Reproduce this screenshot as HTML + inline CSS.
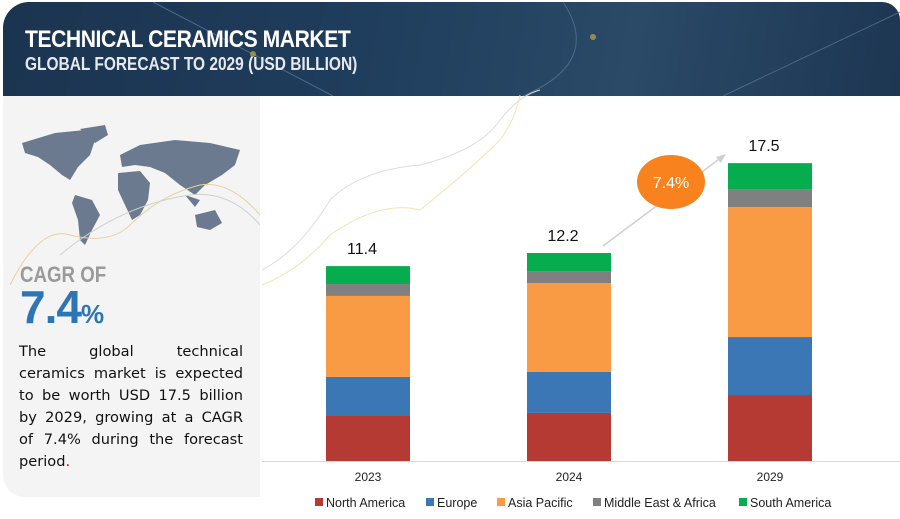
<!DOCTYPE html>
<html><head><meta charset="utf-8"><style>
body{margin:0;width:900px;height:519px;background:#fff;font-family:"Liberation Sans",sans-serif;position:relative;overflow:hidden}
.hdr{position:absolute;left:3px;top:2px;width:897px;height:94px;background:linear-gradient(100deg,#1b3450,#1f3d5c 40%,#2a4a68 70%,#1d3652);border-radius:26px 18px 0 0}
.t1{position:absolute;left:22px;top:24px;color:#fff;font-weight:bold;font-size:24px;letter-spacing:-0.5px;transform:scaleX(0.88);transform-origin:left}
.t2{position:absolute;left:22px;top:52px;color:#e5e8ec;font-weight:bold;font-size:18px;transform:scaleX(0.86);transform-origin:left}
.left{position:absolute;left:3px;top:96px;width:257px;height:401px;background:#f4f4f4;border-radius:0 0 0 22px}
.cagr{position:absolute;left:20px;top:262px;color:#9a9a9a;font-weight:bold;font-size:22px;transform:scaleX(0.85);transform-origin:left}
.big{position:absolute;left:20px;top:280px;color:#2e75b6;font-weight:bold;font-size:46px;letter-spacing:-1px}
.big span{font-size:26px}
.desc{position:absolute;left:19px;top:341px;width:224px;font-family:"DejaVu Sans",sans-serif;font-size:14.6px;line-height:22px;color:#111}
.desc div{text-align:justify;text-align-last:justify;white-space:nowrap}
.desc div.last{text-align-last:left}
</style></head><body>
<div class="hdr">
<svg width="897" height="94" style="position:absolute;left:0;top:0"><path d="M150 0 L330 94" stroke="#4a6a88" stroke-width="1" fill="none"/><path d="M560 0 Q600 60 520 94" stroke="#4a6a88" fill="none"/><path d="M720 94 L897 10" stroke="#4a6a88" fill="none"/><circle cx="250" cy="52" r="3" fill="#c9a640" opacity=".7"/><circle cx="590" cy="35" r="3" fill="#c9a640" opacity=".7"/></svg>
<div class="t1">TECHNICAL CERAMICS MARKET</div>
<div class="t2">GLOBAL FORECAST TO 2029 (USD BILLION)</div>
</div>
<div class="left"></div>
<svg width="260" height="200" style="position:absolute;left:0;top:95px">
<g fill="#6b7a8e">
<path d="M22 48 L55 38 L85 35 L95 45 L90 60 L78 72 L70 85 L62 80 L50 70 L38 62 L25 58 Z"/>
<path d="M80 34 L105 30 L108 40 L95 48 Z"/>
<path d="M75 100 L92 105 L100 120 L92 135 L85 150 L80 145 L78 125 L72 108 Z"/>
<path d="M120 60 L140 50 L175 45 L210 48 L240 55 L235 70 L222 80 L205 90 L195 100 L180 90 L165 78 L150 72 L135 70 L122 72 Z"/>
<path d="M118 78 L140 76 L150 88 L148 105 L140 120 L132 125 L125 110 L118 95 Z"/>
<path d="M195 120 L215 115 L222 128 L210 135 L197 132 Z"/>
<path d="M185 100 L200 105 L195 112 Z"/>
</g>
<path d="M10 190 Q40 130 70 140 Q110 150 130 130 Q160 100 200 90 Q230 85 260 120" stroke="#e8d29a" fill="none"/>
<path d="M60 160 Q120 110 190 100 Q230 95 260 130" stroke="#d0d0d0" fill="none"/>
</svg>
<div class="cagr">CAGR OF</div>
<div class="big">7.4<span>%</span></div>
<div class="desc">
<div>The global technical</div>
<div>ceramics market is expected</div>
<div>to be worth USD 17.5 billion</div>
<div>by 2029, growing at a CAGR</div>
<div>of 7.4% during the forecast</div>
<div class="last">period<span style="color:#c00">.</span></div>
</div>
<svg id="chart" width="900" height="519" style="position:absolute;left:0;top:0"></svg>
<script>
const years=["2023","2024","2029"];
const totals=["11.4","12.2","17.5"];
const seriesNames=["North America","Europe","Asia Pacific","Middle East & Africa","South America"];
const northAmerica=[2.64,2.82,3.87];
const europe=[2.29,2.40,3.40];
const asiaPacific=[4.75,5.22,7.62];
const mea=[0.70,0.70,1.06];
const southAmerica=[1.05,1.06,1.52];
const colors=["#b53a33","#3b77b5","#f99a45","#808080","#05ad4e"];
const series=[northAmerica,europe,asiaPacific,mea,southAmerica];
const svg=document.getElementById('chart');const NS="http://www.w3.org/2000/svg";
function mk(t,a){const e=document.createElementNS(NS,t);for(const k in a)e.setAttribute(k,a[k]);svg.appendChild(e);return e;}
const base=461,scale=17.05;const y=v=>base-v*scale;
const xc=[368,569,770],bw=84;const x=i=>xc[i]-bw/2;
let p=mk('path',{d:"M262 270 Q300 250 330 200 Q360 170 420 165 Q480 150 500 120 Q520 95 540 90",stroke:"#ddd",fill:"none"});

p=mk('path',{d:"M262 285 Q300 270 330 235 Q380 200 420 210 Q470 170 500 140 Q515 120 520 95",stroke:"#f5e3b0",fill:"none"});

let ax=mk('line',{x1:262,x2:900,y1:base+0.5,y2:base+0.5,stroke:"#d9d9d9"});

years.forEach((yr,i)=>{let acc=0;
 series.forEach((s,j)=>{const r=mk('rect',{x:x(i),y:y(acc+s[i]),width:bw,height:s[i]*scale,fill:colors[j]});
 acc+=s[i];});
 const t=mk('text',{x:xc[i]-6,y:y(acc)-12,'text-anchor':'middle','font-size':16,fill:'#111'});t.textContent=totals[i];
 
 const l=mk('text',{x:xc[i],y:481,'text-anchor':'middle','font-size':12,fill:'#222'});l.textContent=yr;
 
});
let ar=mk('line',{x1:603,y1:246,x2:722,y2:157,stroke:'#d0d0d0','stroke-width':1.5});

let ah=mk('path',{d:"M726 154 L716 157 L721 163 Z",fill:'#d0d0d0'});

let el=mk('ellipse',{cx:671,cy:182,rx:34,ry:27,fill:'#f7821e'});

let et=mk('text',{x:671,y:188,'text-anchor':'middle','font-size':16,fill:'#fff'});et.textContent="7.4%";

const lx=[315,426,497,593,739];
seriesNames.forEach((n,j)=>{const r=mk('rect',{x:lx[j],y:498,width:8,height:8,fill:colors[j]});
 
 const t=mk('text',{x:lx[j]+11,y:507,'font-size':12.5,fill:'#222'});t.textContent=n;
 });
</script>
</body></html>
